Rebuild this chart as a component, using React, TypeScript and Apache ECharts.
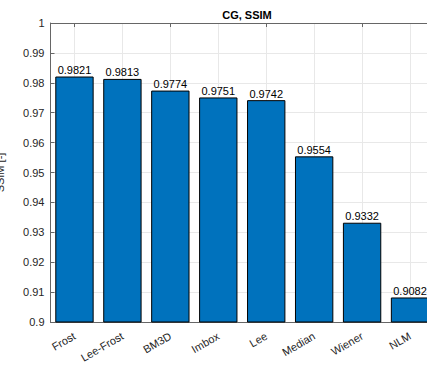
import React, { useEffect, useRef } from "react";
import * as echarts from "echarts";

const categories = ["Frost", "Lee-Frost", "BM3D", "Imbox", "Lee", "Median", "Wiener", "NLM"];
const ssimValues = [0.9821, 0.9813, 0.9774, 0.9751, 0.9742, 0.9554, 0.9332, 0.9082];
const yMin = 0.9;
const yMax = 1;
const yStep = 0.01;

const FONT = "Liberation Sans, Arial, Helvetica, sans-serif";
const AXIS_COLOR = "#666666";
const TEXT_COLOR = "#262626";
const GRID_COLOR = "#e8e8e8";

export default function App() {
  const ref = useRef<HTMLDivElement>(null);

  useEffect(() => {
    if (!ref.current) return;
    const chart = echarts.init(ref.current, undefined, { renderer: "svg" });
    chart.setOption({
      animation: false,
      backgroundColor: "#ffffff",
      title: {
        text: "CG, SSIM",
        left: 242,
        top: 4,
        textAlign: "center",
        textStyle: { fontFamily: FONT, fontSize: 11, fontWeight: "bold", color: "#000" },
      },
      grid: { left: 50.5, right: -7, top: 23, bottom: 45, containLabel: false, outerBoundsMode: "none" },
      xAxis: [
        {
          type: "category",
          data: categories,
          position: "bottom",
          axisLine: { lineStyle: { color: AXIS_COLOR, width: 1 } },
          axisTick: { show: true, inside: true, alignWithLabel: true, length: 4, lineStyle: { color: AXIS_COLOR } },
          splitLine: { show: true, alignWithLabel: true, lineStyle: { color: GRID_COLOR, width: 1 } },
          axisLabel: {
            rotate: 30,
            fontFamily: FONT,
            fontSize: 11,
            color: TEXT_COLOR,
            margin: 13,
            interval: 0,
          },
        },
        {
          type: "category",
          data: categories,
          position: "top",
          axisLine: { lineStyle: { color: AXIS_COLOR, width: 1 } },
          axisTick: { show: true, inside: true, alignWithLabel: true, length: 4, lineStyle: { color: AXIS_COLOR } },
          axisLabel: { show: false },
          splitLine: { show: false },
        },
      ],
      yAxis: {
        type: "value",
        min: yMin,
        max: yMax,
        interval: yStep,
        name: "SSIM [-]",
        nameLocation: "middle",
        nameRotate: 90,
        nameGap: 45,
        nameTextStyle: { fontFamily: FONT, fontSize: 11, color: TEXT_COLOR },
        axisLine: { show: true, lineStyle: { color: AXIS_COLOR, width: 1 } },
        axisTick: { show: true, inside: true, length: 4, lineStyle: { color: AXIS_COLOR } },
        splitLine: { show: true, lineStyle: { color: GRID_COLOR, width: 1 } },
        axisLabel: {
          fontFamily: FONT,
          fontSize: 11,
          color: TEXT_COLOR,
          margin: 6,
          formatter: (v: number) => String(Math.round(v * 100) / 100),
        },
      },
      series: [
        {
          type: "bar",
          data: ssimValues,
          xAxisIndex: 0,
          barWidth: "80%",
          itemStyle: { color: "#0072BD", borderColor: "#000000", borderWidth: 1 },
          label: {
            show: true,
            position: "top",
            distance: 1,
            fontFamily: FONT,
            fontSize: 11,
            color: "#000",
            formatter: (p: any) => Number(p.value).toFixed(4),
          },
        },
      ],
    });
    return () => chart.dispose();
  }, []);

  return (
    <div
      ref={ref}
      style={{ position: "fixed", left: 0, top: 0, width: 427, height: 367 }}
    />
  );
}
